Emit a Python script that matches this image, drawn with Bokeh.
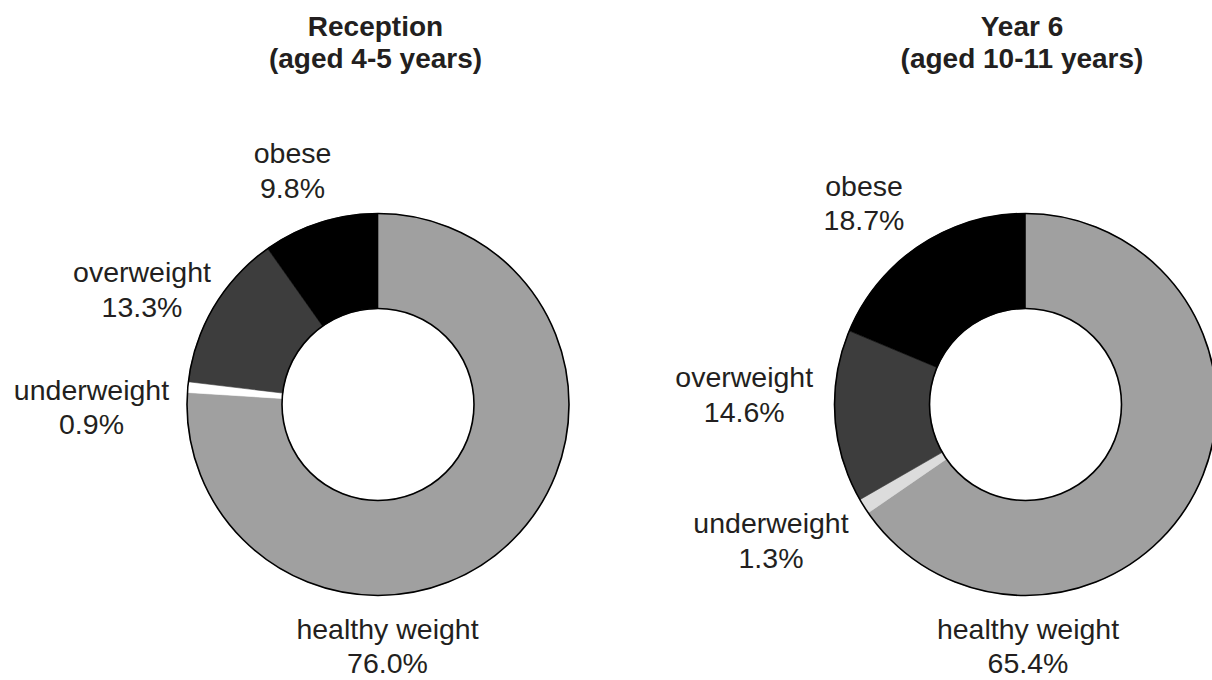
import math
from bokeh.plotting import figure
from bokeh.models import Range1d, ColumnDataSource
from bokeh.core.properties import value
from bokeh.embed import file_html
from bokeh.resources import INLINE

# ---- data ----
categories = ["healthy weight", "underweight", "overweight", "obese"]
reception_values = [76.0, 0.9, 13.3, 9.8]
year6_values = [65.4, 1.3, 14.6, 18.7]
chart_titles = [["Reception", "(aged 4-5 years)"], ["Year 6", "(aged 10-11 years)"]]

# ---- styles / layout ----
reception_colors = ["#a0a0a0", "#ffffff", "#3d3d3d", "#000000"]
year6_colors = ["#a0a0a0", "#dcdcdc", "#3d3d3d", "#000000"]
TEXT_COLOR = "#231f20"
FONT = "Liberation Sans"
W, H = 1212, 680
PAGE_H = 680  # y_data = PAGE_H - y_screen
TEXT_SHIFT = 10  # correction for rendered baseline offset

centers = [(377.5, 404.0), (1025.0, 404.0)]
R_OUT, R_IN = 191, 96
LINE_GAP = 34.5
# label anchors (screen px): x centre, baseline of first line
label_pos = [
    [(387, 638.0), (91, 399), (141.5, 281.7), (292, 162.7)],
    [(1027.5, 638.0), (770.5, 532.7), (743.7, 386.7), (863.5, 195)],
]
title_pos = [(375, 36), (1021.5, 36)]
TITLE_GAP = 32

p = figure(width=W, height=H, output_backend="svg", toolbar_location=None,
           x_range=Range1d(0, W), y_range=Range1d(PAGE_H - H, PAGE_H),
           min_border=0, outline_line_color=None,
           background_fill_color="white", border_fill_color="white")
p.axis.visible = False
p.grid.visible = False

for k, (vals, cols) in enumerate([(reception_values, reception_colors), (year6_values, year6_colors)]):
    cx, cy = centers[k]
    cy_d = PAGE_H - cy
    total = sum(vals)
    cum = 0.0
    starts, ends = [], []
    for v in vals:
        a0 = math.pi / 2 - 2 * math.pi * cum / total
        cum += v
        a1 = math.pi / 2 - 2 * math.pi * cum / total
        starts.append(a1)
        ends.append(a0)
    src = ColumnDataSource(dict(x=[cx] * len(vals), y=[cy_d] * len(vals),
                                start=starts, end=ends, color=cols))
    p.annular_wedge(x="x", y="y", inner_radius=R_IN, outer_radius=R_OUT,
                    inner_radius_units="screen", outer_radius_units="screen",
                    start_angle="start", end_angle="end", fill_color="color",
                    line_color="color", line_width=0.6, source=src)
    p.circle(x=[cx, cx], y=[cy_d, cy_d], radius=[R_OUT, R_IN], radius_units="screen",
             fill_alpha=0, line_color="black", line_width=1.6)

    # slice labels
    lx, ly, lt = [], [], []
    for i, cat in enumerate(categories):
        x0, y0 = label_pos[k][i]
        y0 -= TEXT_SHIFT
        lx += [x0, x0]
        ly += [PAGE_H - y0, PAGE_H - (y0 + LINE_GAP)]
        lt += [cat, f"{vals[i]:.1f}%"]
    p.text(x=lx, y=ly, text=lt, text_align="center", text_baseline="alphabetic",
           text_font=value(FONT), text_font_size="28.5px", text_color=TEXT_COLOR)

    # title
    tx, ty = title_pos[k]
    ty -= TEXT_SHIFT
    p.text(x=[tx, tx], y=[PAGE_H - ty, PAGE_H - (ty + TITLE_GAP)], text=chart_titles[k],
           text_align="center", text_baseline="alphabetic", text_font=value(FONT),
           text_font_size="28px", text_font_style="bold", text_color=TEXT_COLOR)

open("out.html", "w").write(file_html(p, INLINE))
